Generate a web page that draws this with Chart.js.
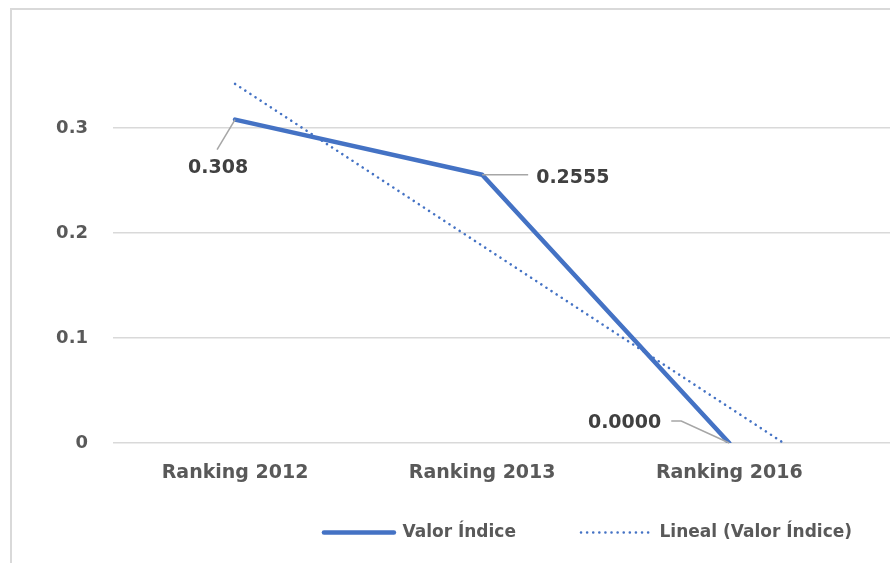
<!DOCTYPE html>
<html>
<head>
<meta charset="utf-8">
<script src="https://cdn.jsdelivr.net/npm/chart.js@4.4.1/dist/chart.umd.min.js"></script>
<style>
  html, body { margin: 0; padding: 0; background: #ffffff; overflow: hidden; }
  #wrap { position: relative; width: 890px; height: 563px; overflow: hidden; }
  #frame { position: absolute; left: 10px; top: 8px; width: 1300px; height: 700px;
           border: 2px solid #d9d9d9; box-sizing: border-box; }
  #box { position: absolute; left: 0; top: 0; width: 1196px; height: 580px; }
</style>
</head>
<body>
<div id="wrap">
  <div id="frame"></div>
  <div id="box"><canvas id="chart"></canvas></div>
</div>
<script>
// values
const categories = ['Ranking 2012', 'Ranking 2013', 'Ranking 2016'];
const categoryPos = [1, 2, 3];
const valorIndice = [0.308, 0.2555, 0];
const valorLabels = ['0.308', '0.2555', '0.0000'];
const trendX = [1, 3.22];
const trendY = [0.342, 0];
const yTicks = [0, 0.1, 0.2, 0.3];
const yTickLabels = ['0', '0.1', '0.2', '0.3'];
const seriesNames = ['Valor Índice', 'Lineal (Valor Índice)'];

const blue = '#4472c4';
const fontFamily = '"DejaVu Sans", Verdana, sans-serif';

// label placement relative to each point: leader path + text anchor
const labelLayout = [
  { path: [[-18, 30]], text: [-17, 48], align: 'center' },
  { path: [[46, 0]], text: [54, 3], align: 'left' },
  { path: [[-48, -22], [-58, -22]], text: [-68, -20], align: 'right' }
];

const dataLabels = {
  id: 'dataLabels',
  afterDatasetsDraw(chart) {
    const ctx = chart.ctx;
    const meta = chart.getDatasetMeta(0);
    ctx.save();
    meta.data.forEach((pt, i) => {
      const lay = labelLayout[i];
      ctx.beginPath();
      ctx.moveTo(pt.x, pt.y);
      lay.path.forEach(p => ctx.lineTo(pt.x + p[0], pt.y + p[1]));
      ctx.strokeStyle = '#a6a6a6';
      ctx.lineWidth = 1.5;
      ctx.stroke();
      ctx.font = 'bold 19px ' + fontFamily;
      ctx.fillStyle = '#404040';
      ctx.textAlign = lay.align;
      ctx.textBaseline = 'middle';
      ctx.fillText(valorLabels[i], pt.x + lay.text[0], pt.y + lay.text[1]);
    });
    ctx.restore();
  }
};

// pull the legend row up closer to the axis labels
const legendShift = {
  id: 'legendShift',
  afterLayout(chart) {
    const lg = chart.legend;
    if (!lg) return;
    lg.top -= 29;
    lg.bottom -= 29;
  }
};

const canvas = document.getElementById('chart');
new Chart(canvas, {
  type: 'line',
  data: {
    datasets: [{
      label: seriesNames[0],
      data: categoryPos.map((x, i) => ({ x: x, y: valorIndice[i] })),
      borderColor: blue,
      backgroundColor: blue,
      borderWidth: 4.5,
      pointRadius: 0,
      borderCapStyle: 'round',
      borderJoinStyle: 'round',
      tension: 0
    }, {
      label: seriesNames[1],
      data: trendX.map((x, i) => ({ x: x, y: trendY[i] })),
      borderColor: blue,
      backgroundColor: blue,
      borderWidth: 2.5,
      borderDash: [0.1, 6],
      borderCapStyle: 'round',
      pointRadius: 0,
      tension: 0
    }]
  },
  options: {
    responsive: true,
    maintainAspectRatio: false,
    animation: false,
    layout: { padding: { top: 65, right: 20, left: 0, bottom: 0 } },
    plugins: {
      title: { display: false },
      tooltip: { enabled: false },
      legend: {
        position: 'bottom',
        labels: {
          usePointStyle: true,
          pointStyle: 'line',
          pointStyleWidth: 70,
          boxHeight: 17,
          padding: 65,
          color: '#595959',
          font: { family: fontFamily, size: 17, weight: 'bold' },
          generateLabels(chart) {
            const items = Chart.defaults.plugins.legend.labels.generateLabels(chart);
            items.forEach((it, i) => {
              const ds = chart.data.datasets[i];
              it.lineDash = ds.borderDash || [];
              it.lineCap = 'round';
              it.lineWidth = ds.borderWidth;
            });
            return items;
          }
        }
      }
    },
    scales: {
      x: {
        type: 'linear',
        min: 0.506,
        max: 4.808,
        afterBuildTicks: s => { s.ticks = categoryPos.map(v => ({ value: v })); },
        afterFit: s => { s.height = 45; },
        grid: { display: false },
        border: { display: false },
        ticks: {
          padding: 11,
          maxRotation: 0,
          autoSkip: false,
          color: '#595959',
          font: { family: fontFamily, size: 19, weight: 'bold' },
          callback: (v, i) => categories[i]
        }
      },
      y: {
        min: 0,
        max: 0.36,
        afterBuildTicks: s => { s.ticks = yTicks.map(v => ({ value: v })); },
        afterFit: s => { s.width = 113; },
        grid: { color: '#d9d9d9', lineWidth: 1.5, drawTicks: false },
        border: { display: false },
        ticks: {
          padding: 25,
          color: '#595959',
          font: { family: fontFamily, size: 18, weight: 'bold' },
          callback: (v, i) => yTickLabels[i]
        }
      }
    }
  },
  plugins: [dataLabels, legendShift]
});
</script>
</body>
</html>
